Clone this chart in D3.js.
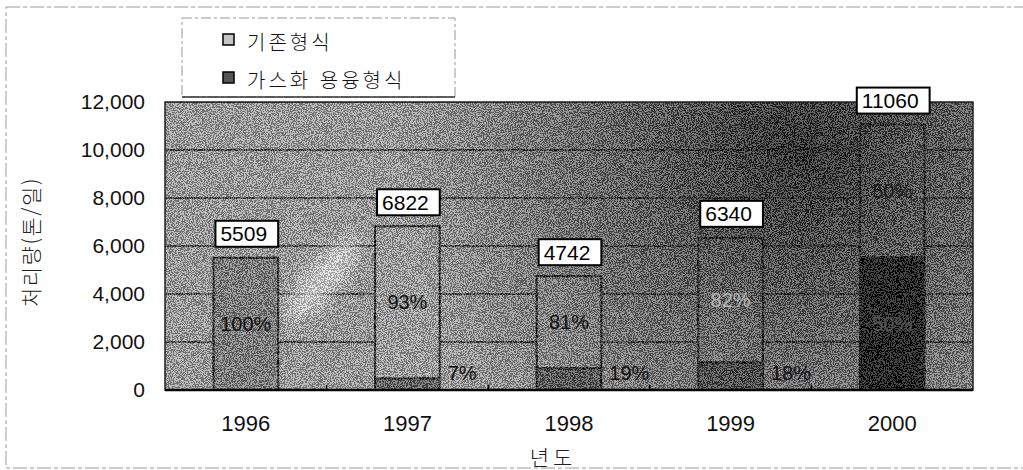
<!DOCTYPE html>
<html lang="ko">
<head>
  <meta charset="UTF-8" />
  <script src="https://d3js.org/d3.v7.min.js"></script>
  <style>
    body { margin: 0; background: #fff; }
    svg { display: block; }
  </style>
</head>
<body>
  <script>
    // data
    var years = ["1996", "1997", "1998", "1999", "2000"];
    var existing = [5509, 6344, 3841, 5199, 5530];      // 기존형식
    var gasification = [0, 478, 901, 1141, 5530];       // 가스화 용융형식
    var existingPct = ["100%", "93%", "81%", "82%", "50%"];
    var gasPct = ["", "7%", "19%", "18%", "50%"];
    var yTicks = [0, 2000, 4000, 6000, 8000, 10000, 12000];
    var seriesNames = ["기존형식", "가스화 용융형식"];

    var width = 1023, height = 470;
    var pLeft = 165, pRight = 973, pTop = 102, pBottom = 390;

    var svg = d3.select("body").append("svg")
      .attr("width", width)
      .attr("height", height);

    var defs = svg.append("defs");

    // dithered grain like the scanned original
    var grain = defs.append("filter").attr("id", "grain")
      .attr("x", 0).attr("y", 0).attr("width", "100%").attr("height", "100%");
    grain.append("feTurbulence").attr("type", "fractalNoise")
      .attr("baseFrequency", 0.95).attr("numOctaves", 2).attr("seed", 5).attr("result", "t");
    grain.append("feColorMatrix").attr("in", "t").attr("type", "matrix")
      .attr("values", "1 0 0 0 0  1 0 0 0 0  1 0 0 0 0  0 0 0 0 1").attr("result", "g");
    var ct = grain.append("feComponentTransfer").attr("in", "g");
    ["feFuncR", "feFuncG", "feFuncB"].forEach(function (f) {
      ct.append(f).attr("type", "discrete").attr("tableValues", "0 0 1 1");
    });

    var soft = defs.append("filter").attr("id", "soft")
      .attr("x", "-50%").attr("y", "-50%").attr("width", "200%").attr("height", "200%");
    soft.append("feGaussianBlur").attr("stdDeviation", 9);

    var shade = defs.append("radialGradient").attr("id", "shade")
      .attr("gradientUnits", "userSpaceOnUse")
      .attr("cx", 800).attr("cy", 150).attr("r", 400);
    shade.append("stop").attr("offset", 0).attr("stop-color", "#000").attr("stop-opacity", 0.85);
    shade.append("stop").attr("offset", 0.4).attr("stop-color", "#000").attr("stop-opacity", 0.5);
    shade.append("stop").attr("offset", 1).attr("stop-color", "#000").attr("stop-opacity", 0);

    var clip = defs.append("clipPath").attr("id", "plotClip");
    clip.append("rect").attr("x", pLeft).attr("y", pTop)
      .attr("width", pRight - pLeft).attr("height", pBottom - pTop);

    // outer frame of the scanned figure
    svg.append("rect")
      .attr("x", 6).attr("y", 7).attr("width", 1040).attr("height", 461)
      .attr("fill", "none").attr("stroke", "#9a9a9a").attr("stroke-width", 1)
      .attr("stroke-dasharray", "14 3 4 3");

    var x = d3.scaleBand().domain(years).range([pLeft, pRight])
      .paddingInner(0.6).paddingOuter(0.3);
    var y = d3.scaleLinear().domain([0, 12000]).range([pBottom, pTop]);

    var rows = years.map(function (yr, i) {
      return {
        year: yr,
        existing: existing[i],
        gas: gasification[i],
        total: existing[i] + gasification[i],
        ePct: existingPct[i],
        gPct: gasPct[i]
      };
    });

    var plot = svg.append("g").attr("clip-path", "url(#plotClip)");

    plot.append("rect")
      .attr("x", pLeft).attr("y", pTop)
      .attr("width", pRight - pLeft).attr("height", pBottom - pTop)
      .attr("fill", "#a0a0a0");

    // gridlines
    plot.selectAll("line.grid")
      .data(yTicks.slice(1))
      .enter().append("line")
      .attr("class", "grid")
      .attr("x1", pLeft).attr("x2", pRight)
      .attr("y1", function (d) { return y(d); })
      .attr("y2", function (d) { return y(d); })
      .attr("stroke", "#1a1a1a").attr("stroke-width", 1.5);

    // light streak of the scan
    plot.append("ellipse")
      .attr("cx", 322).attr("cy", 280).attr("rx", 15).attr("ry", 55)
      .attr("transform", "rotate(40,322,280)")
      .attr("fill", "#fff").attr("opacity", 0.75)
      .attr("filter", "url(#soft)");

    // bars: existing on top, gasification at bottom
    var bars = plot.selectAll("g.bar").data(rows).enter().append("g").attr("class", "bar");

    bars.append("rect")
      .attr("x", function (d) { return x(d.year); })
      .attr("y", function (d) { return y(d.total); })
      .attr("width", x.bandwidth())
      .attr("height", function (d) { return y(d.gas) - y(d.total); })
      .attr("fill", function (d) { return d.gas === 0 ? "#7a7a7a" : "#a4a4a4"; })
      .attr("stroke", "#111").attr("stroke-width", 2);

    bars.filter(function (d) { return d.gas > 0; })
      .append("rect")
      .attr("x", function (d) { return x(d.year); })
      .attr("y", function (d) { return y(d.gas); })
      .attr("width", x.bandwidth())
      .attr("height", function (d) { return y(0) - y(d.gas); })
      .attr("fill", function (d) { return d.gas > 3000 ? "#000" : "#5a5a5a"; })
      .attr("stroke", "#111").attr("stroke-width", 2);

    // darkening and grain over the plot
    plot.append("rect")
      .attr("x", pLeft).attr("y", pTop)
      .attr("width", pRight - pLeft).attr("height", pBottom - pTop)
      .attr("fill", "url(#shade)");

    plot.append("rect")
      .attr("x", pLeft).attr("y", pTop)
      .attr("width", pRight - pLeft).attr("height", pBottom - pTop)
      .attr("filter", "url(#grain)")
      .attr("opacity", 0.28);

    // plot border
    svg.append("rect")
      .attr("x", pLeft).attr("y", pTop)
      .attr("width", pRight - pLeft).attr("height", pBottom - pTop)
      .attr("fill", "none").attr("stroke", "#222").attr("stroke-width", 1.5);
    svg.append("line")
      .attr("x1", pLeft).attr("x2", pRight)
      .attr("y1", pBottom).attr("y2", pBottom)
      .attr("stroke", "#000").attr("stroke-width", 2.5);

    // axes
    var yAxis = svg.append("g")
      .attr("transform", "translate(" + pLeft + ",0)")
      .call(d3.axisLeft(y).tickValues(yTicks).tickFormat(d3.format(",")).tickSize(0).tickPadding(20));
    yAxis.select(".domain").remove();
    yAxis.selectAll("text")
      .attr("font-family", "'Liberation Sans', Arial, sans-serif")
      .attr("font-size", 21).attr("fill", "#111");

    var xAxis = svg.append("g")
      .attr("transform", "translate(0," + pBottom + ")")
      .call(d3.axisBottom(x).tickSize(0).tickPadding(25));
    xAxis.select(".domain").remove();
    xAxis.selectAll("text")
      .attr("font-family", "'Liberation Sans', Arial, sans-serif")
      .attr("font-size", 22).attr("fill", "#111");

    // small separators between categories
    svg.selectAll("line.sep")
      .data(years.slice(1))
      .enter().append("line")
      .attr("class", "sep")
      .attr("x1", function (d) { return x(d) - x.step() * x.paddingInner() / 2; })
      .attr("x2", function (d) { return x(d) - x.step() * x.paddingInner() / 2; })
      .attr("y1", pBottom).attr("y2", pBottom - 5)
      .attr("stroke", "#000").attr("stroke-width", 1.5);

    // percentage labels
    var pctFont = "'Liberation Sans', Arial, sans-serif";
    svg.selectAll("text.epct")
      .data(rows)
      .enter().append("text")
      .attr("class", "epct")
      .attr("x", function (d) { return x(d.year) + x.bandwidth() / 2; })
      .attr("y", function (d) { return (y(d.total) + y(d.gas)) / 2; })
      .attr("text-anchor", "middle").attr("dominant-baseline", "central")
      .attr("font-family", pctFont).attr("font-size", 20)
      .attr("fill", function (d) { return d.year === "1999" ? "#b5b5b5" : (d.year === "2000" ? "#1c1c1c" : "#111"); })
      .text(function (d) { return d.ePct; });

    svg.selectAll("text.gpct")
      .data(rows.filter(function (d) { return d.gas > 0; }))
      .enter().append("text")
      .attr("class", "gpct")
      .attr("x", function (d) {
        var inside = y(0) - y(d.gas) > 40;
        return inside ? x(d.year) + x.bandwidth() / 2 : x(d.year) + x.bandwidth() + 8;
      })
      .attr("y", function (d) {
        var inside = y(0) - y(d.gas) > 40;
        return inside ? (y(d.gas) + y(0)) / 2 : y(0) - 17;
      })
      .attr("text-anchor", function (d) { return y(0) - y(d.gas) > 40 ? "middle" : "start"; })
      .attr("dominant-baseline", "central")
      .attr("font-family", pctFont).attr("font-size", 20)
      .attr("fill", function (d) { return y(0) - y(d.gas) > 40 ? "#555" : "#111"; })
      .text(function (d) { return d.gPct; });

    // total value boxes
    var boxes = svg.selectAll("g.total").data(rows).enter().append("g").attr("class", "total");
    boxes.append("text")
      .attr("x", function (d) { return x(d.year) + x.bandwidth() / 2 - 2; })
      .attr("y", function (d) { return y(d.total) - 24; })
      .attr("text-anchor", "middle").attr("dominant-baseline", "central")
      .attr("font-family", pctFont).attr("font-size", 21).attr("fill", "#000")
      .text(function (d) { return d.total; })
      .each(function (d) { d.bb = this.getBBox(); });
    boxes.insert("rect", "text")
      .attr("x", function (d) { return d.bb.x - 5; })
      .attr("y", function (d) { return y(d.total) - 37; })
      .attr("width", function (d) { return d.bb.width + 16; })
      .attr("height", 26)
      .attr("fill", "#fff").attr("stroke", "#000").attr("stroke-width", 2);

    // axis titles
    svg.append("text")
      .attr("transform", "translate(30,242) rotate(-90)")
      .attr("text-anchor", "middle").attr("dominant-baseline", "central")
      .attr("font-family", "'Noto Sans CJK KR', sans-serif").attr("font-size", 21)
      .attr("font-weight", 300).attr("letter-spacing", 1.5).attr("fill", "#222")
      .text("처리량(톤/일)");

    svg.append("text")
      .attr("x", 553).attr("y", 456)
      .attr("text-anchor", "middle").attr("dominant-baseline", "central")
      .attr("font-family", "'Noto Sans CJK KR', sans-serif").attr("font-size", 21)
      .attr("font-weight", 300).attr("letter-spacing", 4).attr("fill", "#222")
      .text("년도");

    // legend
    var legend = svg.append("g");
    legend.append("rect")
      .attr("x", 182).attr("y", 18).attr("width", 273).attr("height", 79)
      .attr("fill", "#fff").attr("stroke", "#999").attr("stroke-width", 1)
      .attr("stroke-dasharray", "10 3 3 3");
    legend.append("line")
      .attr("x1", 182).attr("x2", 455).attr("y1", 97).attr("y2", 97)
      .attr("stroke", "#333").attr("stroke-width", 1.5);

    var swatch = ["#c4c4c4", "#555"];
    var item = legend.selectAll("g.item").data(seriesNames).enter().append("g")
      .attr("class", "item")
      .attr("transform", function (d, i) { return "translate(223," + (40 + i * 38) + ")"; });
    item.append("rect")
      .attr("x", 0).attr("y", -6).attr("width", 11).attr("height", 11)
      .attr("fill", function (d, i) { return swatch[i]; })
      .attr("stroke", "#000").attr("stroke-width", 1.5);
    item.append("text")
      .attr("x", 24).attr("y", 1)
      .attr("dominant-baseline", "central")
      .attr("font-family", "'Noto Sans CJK KR', sans-serif").attr("font-size", 20)
      .attr("font-weight", 300).attr("letter-spacing", 3).attr("fill", "#111")
      .text(function (d) { return d; });
  </script>
</body>
</html>
